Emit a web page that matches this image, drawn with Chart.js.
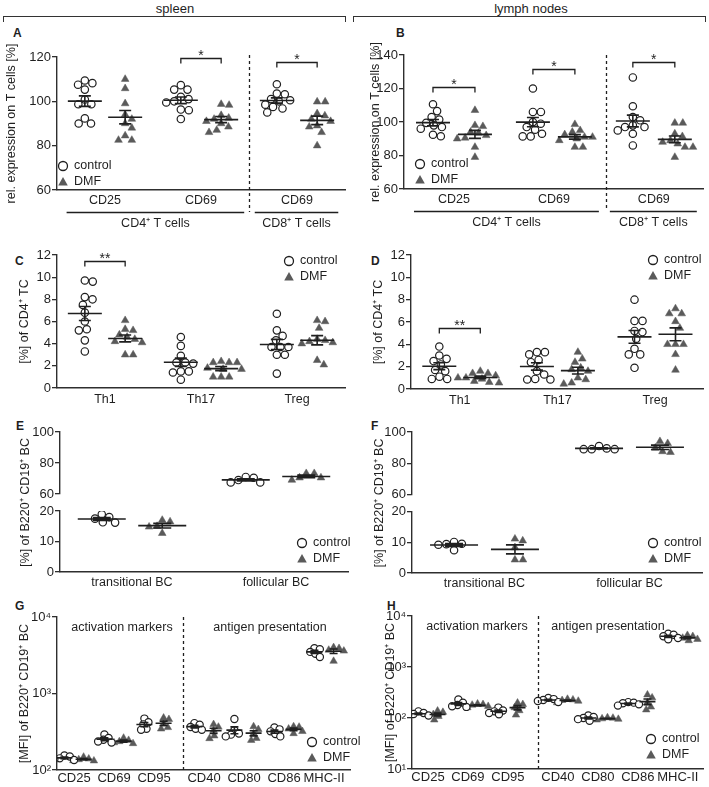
<!DOCTYPE html>
<html>
<head>
<meta charset="utf-8">
<script src="https://cdn.jsdelivr.net/npm/chart.js@4.4.0/dist/chart.umd.min.js"></script>
<style>
  body { margin: 0; background: #fff; width: 709px; height: 787px; position: relative; overflow: hidden;
         font-family: "Liberation Sans", Arial, Helvetica, sans-serif; color: #1f1f1f; }
  canvas { position: absolute; }
  .hdr { position: absolute; top: 1px; font-size: 13px; text-align: center; }
  .brk { position: absolute; top: 16px; height: 5px; border: 1.3px solid #333; border-bottom: none; }
  .tag { position: absolute; font-size: 12px; font-weight: bold; line-height: 1; }
</style>
</head>
<body>
<div class="hdr" style="left:0;width:350px">spleen</div>
<div class="brk" style="left:3px;width:341px"></div>
<div class="hdr" style="left:353px;width:356px">lymph nodes</div>
<div class="brk" style="left:353px;width:351px"></div>
<div class="tag" style="left:13px;top:27px">A</div>
<div class="tag" style="left:396px;top:27px">B</div>
<div class="tag" style="left:15px;top:255px">C</div>
<div class="tag" style="left:371px;top:255px">D</div>
<div class="tag" style="left:16px;top:420px">E</div>
<div class="tag" style="left:371px;top:420px">F</div>
<div class="tag" style="left:15px;top:600px">G</div>
<div class="tag" style="left:387px;top:600px">H</div>
<script>
// ---- data ----
const tCats = ["CD25", "CD69", "CD69"];
const spleenTCtrl = [
  [109.4, 108.2, 107.5, 105.3, 100.8, 98.7, 98.7, 92.3, 90, 90],
  [107.3, 105.3, 105.3, 102, 101, 100, 99.5, 96.3, 96, 92],
  [107.7, 103.5, 103.2, 101, 100.5, 100, 98.5, 97.5, 96.8, 95],
];
const spleenTDmf = [
  [110, 105.8, 99, 94, 92, 90, 88, 84.5, 82.5, 82.5],
  [98.7, 98.3, 93.7, 92.5, 92, 91, 90, 88.5, 87, 86],
  [99.8, 99.8, 94.5, 93.5, 92, 91, 89, 88.5, 86, 80],
];
const lnTCtrl = [
  [110.6, 106.5, 103, 101.5, 99.5, 98, 97, 96, 92.4, 91.5],
  [120, 106, 106, 100, 99, 97, 95.4, 93, 91.4, 91.4],
  [126.6, 109.4, 103, 101, 98, 97, 97, 95, 93, 86],
];
const lnTDmf = [
  [107, 98, 97.4, 94, 93.4, 92, 90.5, 90, 85, 79],
  [98.6, 95, 94, 92.5, 91, 91, 90, 89, 85, 85],
  [99.4, 99.4, 93, 91.4, 89, 88, 87, 85, 85, 79],
];
const thCats = ["Th1", "Th17", "Treg"];
const spleenThCtrl = [
  [9.7, 9.6, 8.2, 8.0, 7.5, 6.8, 6.0, 5.3, 5.2, 4.3, 3.3],
  [4.6, 3.8, 2.9, 2.3, 2.3, 2.2, 1.5, 1.5, 1.4, 0.75],
  [6.7, 5.2, 4.7, 4.3, 3.7, 3.7, 3.7, 3.0, 3.0, 1.3],
];
const spleenThDmf = [
  [6.1, 5.3, 5.2, 4.8, 4.6, 4.4, 4.2, 4.1, 3.0, 3.0],
  [2.4, 2.3, 2.3, 2.3, 1.8, 1.7, 1.7, 1.0, 1.0, 1.0],
  [6.1, 6.0, 5.4, 4.4, 4.3, 4.2, 4.1, 4.0, 2.5, 2.1],
];
const lnThCtrl = [
  [3.8, 3.0, 2.7, 2.5, 2.2, 1.7, 1.6, 1.1, 0.9, 0.9],
  [3.3, 3.3, 3.1, 2.6, 2.4, 1.6, 1.3, 0.9, 0.85, 0.85],
  [8.0, 6.1, 6.1, 5.2, 5.1, 4.5, 3.6, 3.1, 3.1, 1.9],
];
const lnThDmf = [
  [1.6, 1.4, 1.4, 1.2, 1.0, 1.0, 0.9, 0.7, 0.6, 0.55],
  [3.3, 2.7, 2.4, 1.9, 1.75, 1.6, 1.0, 0.85, 0.55, 0.45],
  [7.2, 6.75, 6.75, 6.05, 5.45, 4.0, 4.0, 4.0, 3.1, 1.7],
];
const bcCats = ["transitional BC", "follicular BC"];
const spleenBcCtrl = [[18.9, 17.5, 16.2, 16.3, 18.0], [71, 69, 67.5, 67.5, 70.5]];
const spleenBcDmf = [[17.0, 16.5, 15.0, 14.8, 12.7], [73.3, 70.5, 69, 70.5, 73.3]];
const lnBcCtrl = [[10.1, 9.5, 7.4, 9.2, 9.4], [91, 89, 89, 89, 89.5]];
const lnBcDmf = [[10.5, 11.1, 8.3, 4.3, 4.3], [89.8, 94, 92.7, 87, 87.5]];
const mfiCats = ["CD25", "CD69", "CD95", "CD40", "CD80", "CD86", "MHC-II"];
const spleenMfiCtrl = [
  [155, 150, 142, 138, 135], [292, 262, 248, 236, 228], [470, 420, 395, 345, 335],
  [410, 390, 365, 345, 335], [465, 330, 300, 290, 275], [360, 340, 320, 295, 275],
  [3900, 3800, 3500, 3300, 3000],
];
const spleenMfiDmf = [
  [148, 140, 137, 133, 132], [262, 245, 236, 228, 222], [480, 460, 400, 360, 345],
  [395, 365, 330, 280, 258], [370, 340, 300, 260, 245], [370, 365, 345, 320, 300],
  [4000, 3900, 3700, 3600, 2650],
];
const lnMfiCtrl = [
  [135, 125, 120, 115, 112], [230, 200, 180, 170, 165], [160, 140, 135, 125, 118],
  [248, 235, 225, 215, 205], [112, 105, 100, 95, 88], [205, 200, 195, 185, 175],
  [4500, 4300, 4000, 3700, 3500],
];
const lnMfiDmf = [
  [138, 130, 118, 108, 92], [190, 185, 180, 170, 160], [198, 185, 160, 140, 115],
  [235, 228, 222, 215, 200], [102, 100, 97, 95, 92], [285, 250, 200, 165, 145],
  [4200, 4000, 3700, 3500, 3300],
];

const tTicksA = [60, 80, 100, 120];
const tTicksB = [60, 80, 100, 120, 140];
const thTicks = [0, 2, 4, 6, 8, 10, 12];
const bcTicksTop = [60, 80, 100];
const bcTicksBottom = [0, 10, 20];
const mfiTicksG = [100, 1000, 10000];
const mfiLabelsG = ["10²", "10³", "10⁴"];
const mfiTicksH = [10, 100, 1000, 10000];
const mfiLabelsH = ["10¹", "10²", "10³", "10⁴"];

const sigSpleenT = [{ cat: 1, y: 119.7, text: "*" }, { cat: 2, y: 117.9, text: "*" }];
const sigLnT = [{ cat: 0, y: 120.6, text: "*" }, { cat: 1, y: 131.4, text: "*" }, { cat: 2, y: 136, text: "*" }];
const sigSpleenTh = [{ cat: 0, y: 11.5, text: "**" }];
const sigLnTh = [{ cat: 0, y: 5.45, text: "**" }];
const tGroups = [{ from: 0.6, to: 2.45, text: "CD4⁺ T cells" }, { from: 2.56, to: 3.43, text: "CD8⁺ T cells" }];

// ---- drawing ----
const INK = "#1f1f1f";
const AX = "#2e2e2e";
const GREY = "#5a5a5a";
const FONT = '"Liberation Sans", Arial, Helvetica, sans-serif';
Chart.defaults.font.family = FONT;
Chart.defaults.color = INK;

function mean(a) { return a.reduce((s, v) => s + v, 0) / a.length; }
function sem(a) {
  const m = mean(a);
  return Math.sqrt(a.reduce((s, v) => s + (v - m) ** 2, 0) / (a.length - 1)) / Math.sqrt(a.length);
}

// beeswarm offsets in pixels, from pixel y positions
function swarm(ys, d) {
  const order = ys.map((_, i) => i).sort((a, b) => ys[a] - ys[b]);
  const placed = [];
  const xs = ys.map(() => 0);
  order.forEach((i) => {
    const y = ys[i];
    const near = placed.filter((p) => Math.abs(p.y - y) < d);
    const cands = [0];
    near.forEach((p) => {
      const w = Math.sqrt(d * d - (p.y - y) ** 2);
      cands.push(p.x + w, p.x - w);
    });
    cands.sort((a, b) => Math.abs(a) - Math.abs(b));
    const x = cands.find((c) => near.every((p) => (p.x - c) ** 2 + (p.y - y) ** 2 >= d * d - 0.01));
    xs[i] = x;
    placed.push({ x, y });
  });
  return xs;
}

function triangle(ctx, x, y, r) {
  ctx.beginPath();
  ctx.moveTo(x, y - r);
  ctx.lineTo(x + r * 0.95, y + r * 0.7);
  ctx.lineTo(x - r * 0.95, y + r * 0.7);
  ctx.closePath();
  ctx.fill();
}

function decor(p) {
  return {
    id: "decor",
    afterDatasetsDraw(chart) {
      const { ctx, chartArea: a, scales } = chart;
      const sx = scales.x;
      ctx.save();
      ctx.strokeStyle = INK;
      ctx.fillStyle = INK;
      ctx.lineWidth = 1.3;
      (p.dividers || []).forEach((d) => {
        const x = Math.round(sx.getPixelForValue(d.x)) + 0.5;
        ctx.setLineDash([3, 3]);
        ctx.beginPath();
        ctx.moveTo(x, a.top + d.from);
        ctx.lineTo(x, a.bottom + d.to);
        ctx.stroke();
        ctx.setLineDash([]);
      });
      (p.groups || []).forEach((g) => {
        const x1 = sx.getPixelForValue(g.from);
        const x2 = sx.getPixelForValue(g.to);
        const y = Math.round(a.bottom + 22) + 0.5;
        ctx.beginPath();
        ctx.moveTo(x1, y);
        ctx.lineTo(x2, y);
        ctx.stroke();
        ctx.font = `12.5px ${FONT}`;
        ctx.textAlign = "center";
        ctx.textBaseline = "middle";
        ctx.fillText(g.text, (x1 + x2) / 2, a.bottom + 34);
      });
      (p.sig || []).forEach((s) => {
        const c = p.catPos[s.cat];
        const x1 = sx.getPixelForValue(c - p.shift);
        const x2 = sx.getPixelForValue(c + p.shift);
        const y = Math.round(scales.y.getPixelForValue(s.y)) + 0.5;
        ctx.beginPath();
        ctx.moveTo(x1, y + 5);
        ctx.lineTo(x1, y);
        ctx.lineTo(x2, y);
        ctx.lineTo(x2, y + 5);
        ctx.stroke();
        ctx.font = `14px ${FONT}`;
        ctx.textAlign = "center";
        ctx.textBaseline = "alphabetic";
        ctx.fillText(s.text, (x1 + x2) / 2, y + 1);
      });
      ctx.font = `12.5px ${FONT}`;
      ctx.textAlign = "center";
      ctx.textBaseline = "middle";
      (p.notes || []).forEach((n) => ctx.fillText(n.text, n.x - p.left, n.y - p.top));
      if (p.legend) {
        const lx = p.legend.x - p.left;
        const ly = p.legend.y - p.top;
        ctx.lineWidth = 1.3;
        ctx.strokeStyle = INK;
        ctx.fillStyle = "#fff";
        ctx.beginPath();
        ctx.arc(lx, ly, 4.5, 0, Math.PI * 2);
        ctx.fill();
        ctx.stroke();
        ctx.fillStyle = GREY;
        triangle(ctx, lx, ly + 16, 5);
        ctx.fillStyle = INK;
        ctx.textAlign = "left";
        ctx.font = `12.5px ${FONT}`;
        ctx.fillText("control", lx + 11, ly);
        ctx.fillText("DMF", lx + 11, ly + 16);
      }
      ctx.restore();
    },
  };
}

function yAxis(spec, yW, extra) {
  return Object.assign({
    type: spec.log ? "logarithmic" : "linear",
    position: "left",
    min: spec.min,
    max: spec.max,
    grid: { display: true, drawOnChartArea: false, drawTicks: true, tickLength: 5, color: AX, lineWidth: 1.3 },
    border: { display: true, color: AX, width: 1.4 },
    afterBuildTicks: (s) => { s.ticks = spec.ticks.map((v) => ({ value: v })); },
    ticks: { autoSkip: false, padding: 1, color: INK, font: { size: 13 }, callback: (v, i) => spec.labels[i] },
    afterFit: (s) => { s.width = yW; },
  }, extra || {});
}

function panel(p) {
  const cv = document.createElement("canvas");
  cv.width = p.w;
  cv.height = p.h;
  cv.style.left = p.left + "px";
  cv.style.top = p.top + "px";
  document.body.appendChild(cv);

  const yW = p.area.l - p.left;
  const pt = p.area.t - p.top;
  const pr = p.left + p.w - p.area.r;
  const xH = p.top + p.h - p.area.b;

  const groups = [];
  p.cats.forEach((c, i) => {
    groups.push({ center: p.catPos[i] - p.shift, vals: p.ctrl[i], kind: "ctrl", axis: p.axisOf ? p.axisOf(i) : "y" });
    groups.push({ center: p.catPos[i] + p.shift, vals: p.dmf[i], kind: "dmf", axis: p.axisOf ? p.axisOf(i) : "y" });
  });

  const datasets = [];
  groups.forEach((g) => {
    const ctrl = g.kind === "ctrl";
    datasets.push({
      data: g.vals.map((v) => ({ x: g.center, y: v })),
      yAxisID: g.axis,
      order: 2,
      pointStyle: ctrl ? "circle" : "triangle",
      pointRadius: ctrl ? p.r : p.r * 1.2,
      pointBackgroundColor: ctrl ? "#fff" : GREY,
      pointBorderColor: ctrl ? INK : GREY,
      pointBorderWidth: ctrl ? 1.2 : 0.5,
    });
    datasets.push({
      data: [],
      yAxisID: g.axis,
      order: 1,
      showLine: true,
      spanGaps: false,
      pointRadius: 0,
      borderColor: INK,
      borderWidth: 1.6,
    });
  });

  const scales = {
    x: {
      type: "linear",
      min: p.xMin,
      max: p.xMax,
      grid: { display: false, drawTicks: false },
      border: { display: true, color: AX, width: 1.4 },
      afterBuildTicks: (s) => { s.ticks = p.catPos.map((v) => ({ value: v })); },
      ticks: { autoSkip: false, maxRotation: 0, padding: p.labelPad, color: INK, font: { size: p.xFont || 12.5 }, callback: (v, i) => p.cats[i] },
      afterFit: (s) => { s.height = xH; },
    },
  };
  const title = (text) => ({ display: true, text, color: INK, font: { size: 12.5 }, padding: { top: p.titlePad, bottom: 0 } });
  if (p.broken) {
    scales.yTop = yAxis({ min: 60, max: 100, ticks: bcTicksTop, labels: bcTicksTop }, yW, { stack: "bc", stackWeight: 62, weight: 3 });
    scales.yGap = {
      type: "linear", position: "left", min: 0, max: 1, stack: "bc", stackWeight: 17, weight: 2,
      ticks: { display: false }, grid: { display: false }, border: { display: false },
      title: title(p.title),
      afterFit: (s) => { s.width = yW; },
    };
    scales.yBot = yAxis({ min: 0, max: 20, ticks: bcTicksBottom, labels: bcTicksBottom }, yW, { stack: "bc", stackWeight: 61, weight: 1 });
  } else {
    scales.y = yAxis(p.y, yW, { title: title(p.title) });
  }

  const chart = new Chart(cv, {
    type: "scatter",
    data: { datasets },
    options: {
      animation: false,
      responsive: false,
      devicePixelRatio: 1,
      layout: { padding: { left: 0, top: pt, right: pr, bottom: 0 } },
      plugins: { legend: { display: false }, tooltip: { enabled: false } },
      scales,
    },
    plugins: [decor(p)],
  });

  // spread points like a scatter-dot plot and add mean ± SEM
  const sx = chart.scales.x;
  const ux = sx.getPixelForValue(1) - sx.getPixelForValue(0);
  groups.forEach((g, k) => {
    const sy = chart.scales[g.axis];
    const off = swarm(g.vals.map((v) => sy.getPixelForValue(v)), p.dot);
    chart.data.datasets[2 * k].data = g.vals.map((v, j) => ({ x: g.center + off[j] / ux, y: v }));
    const m = mean(g.vals);
    const e = sem(g.vals);
    const mw = p.meanW / ux;
    const cw = p.capW / ux;
    const c = g.center;
    chart.data.datasets[2 * k + 1].data = [
      { x: c - mw, y: m }, { x: c + mw, y: m }, { x: c, y: null },
      { x: c, y: m - e }, { x: c, y: m + e }, { x: c, y: null },
      { x: c - cw, y: m + e }, { x: c + cw, y: m + e }, { x: c, y: null },
      { x: c - cw, y: m - e }, { x: c + cw, y: m - e },
    ];
  });
  chart.update("none");
}

const common = { r: 3.7, dot: 8, meanW: 17, capW: 6, shift: 0.21, xMin: 0.5, xMax: 3.5, catPos: [1, 2, 3] };

panel(Object.assign({}, common, {
  left: 0, top: 30, w: 370, h: 205, area: { l: 57, t: 57, r: 345, b: 190 },
  cats: tCats, ctrl: spleenTCtrl, dmf: spleenTDmf, labelPad: 3, titlePad: 4.5,
  y: { min: 60, max: 120, ticks: tTicksA, labels: tTicksA },
  title: "rel. expression on T cells [%]", sig: sigSpleenT, groups: tGroups,
  dividers: [{ x: 2.5, from: -2, to: 22 }], legend: { x: 63, y: 166 },
}));
panel(Object.assign({}, common, {
  left: 354, top: 30, w: 355, h: 205, area: { l: 404, t: 55, r: 704, b: 189 },
  cats: tCats, ctrl: lnTCtrl, dmf: lnTDmf, labelPad: 3, titlePad: 14,
  y: { min: 60, max: 140, ticks: tTicksB, labels: tTicksB },
  title: "rel. expression on T cells [%]", sig: sigLnT, groups: tGroups,
  dividers: [{ x: 2.52, from: 0, to: 22 }], legend: { x: 420, y: 164 },
}));
panel(Object.assign({}, common, {
  left: 0, top: 235, w: 370, h: 175, area: { l: 57, t: 255, r: 345, b: 388 },
  cats: thCats, ctrl: spleenThCtrl, dmf: spleenThDmf, labelPad: 4, titlePad: 17,
  y: { min: 0, max: 12, ticks: thTicks, labels: thTicks },
  title: "[%] of CD4⁺ TC", sig: sigSpleenTh, legend: { x: 289, y: 261 },
}));
panel(Object.assign({}, common, {
  left: 354, top: 235, w: 355, h: 175, area: { l: 411, t: 255, r: 704, b: 389 },
  cats: thCats, ctrl: lnThCtrl, dmf: lnThDmf, labelPad: 4, titlePad: 17,
  y: { min: 0, max: 12, ticks: thTicks, labels: thTicks },
  title: "[%] of CD4⁺ TC", sig: sigLnTh, legend: { x: 653, y: 260 },
}));
panel(Object.assign({}, common, {
  left: 0, top: 410, w: 370, h: 190, area: { l: 60, t: 432, r: 348, b: 572 },
  cats: bcCats, catPos: [1, 2], xMin: 0.5, xMax: 2.5, ctrl: spleenBcCtrl, dmf: spleenBcDmf,
  labelPad: 3, titlePad: 18, broken: true, axisOf: (i) => (i === 0 ? "yBot" : "yTop"),
  meanW: 24, capW: 9, title: "[%] of B220⁺ CD19⁺ BC", legend: { x: 302, y: 543 },
}));
panel(Object.assign({}, common, {
  left: 354, top: 410, w: 355, h: 190, area: { l: 412, t: 432, r: 702, b: 573 },
  cats: bcCats, catPos: [1, 2], xMin: 0.5, xMax: 2.5, ctrl: lnBcCtrl, dmf: lnBcDmf,
  labelPad: 3, titlePad: 18, broken: true, axisOf: (i) => (i === 0 ? "yBot" : "yTop"),
  meanW: 24, capW: 9, title: "[%] of B220⁺ CD19⁺ BC", legend: { x: 653, y: 543 },
}));
const mfiPos = [1, 2, 3, 4.25, 5.25, 6.25, 7.25];
panel(Object.assign({}, common, {
  left: 0, top: 600, w: 370, h: 187, area: { l: 57, t: 617, r: 350, b: 770 },
  cats: mfiCats, catPos: mfiPos, xMin: 0.575, xMax: 7.9, shift: 0.24, ctrl: spleenMfiCtrl, dmf: spleenMfiDmf,
  labelPad: 1, titlePad: 17, dot: 5.5, meanW: 8, capW: 4, r: 3.6, xFont: 13,
  y: { log: true, min: 100, max: 10000, ticks: mfiTicksG, labels: mfiLabelsG },
  title: "[MFI] of B220⁺ CD19⁺ BC", dividers: [{ x: 3.72, from: 0, to: 0 }], legend: { x: 312, y: 742 },
  notes: [{ x: 122, y: 628, text: "activation markers" }, { x: 270, y: 628, text: "antigen presentation" }],
}));
panel(Object.assign({}, common, {
  left: 354, top: 600, w: 355, h: 187, area: { l: 412, t: 616, r: 704, b: 769 },
  cats: mfiCats, catPos: mfiPos, xMin: 0.6, xMax: 7.9, shift: 0.24, ctrl: lnMfiCtrl, dmf: lnMfiDmf,
  labelPad: 1, titlePad: 29, dot: 5.5, meanW: 8, capW: 4, r: 3.6, xFont: 13,
  y: { log: true, min: 10, max: 10000, ticks: mfiTicksH, labels: mfiLabelsH },
  title: "[MFI] of B220⁺ CD19⁺ BC", dividers: [{ x: 3.75, from: 0, to: 0 }], legend: { x: 651, y: 739 },
  notes: [{ x: 477, y: 627, text: "activation markers" }, { x: 608, y: 627, text: "antigen presentation" }],
}));
</script>
</body>
</html>
